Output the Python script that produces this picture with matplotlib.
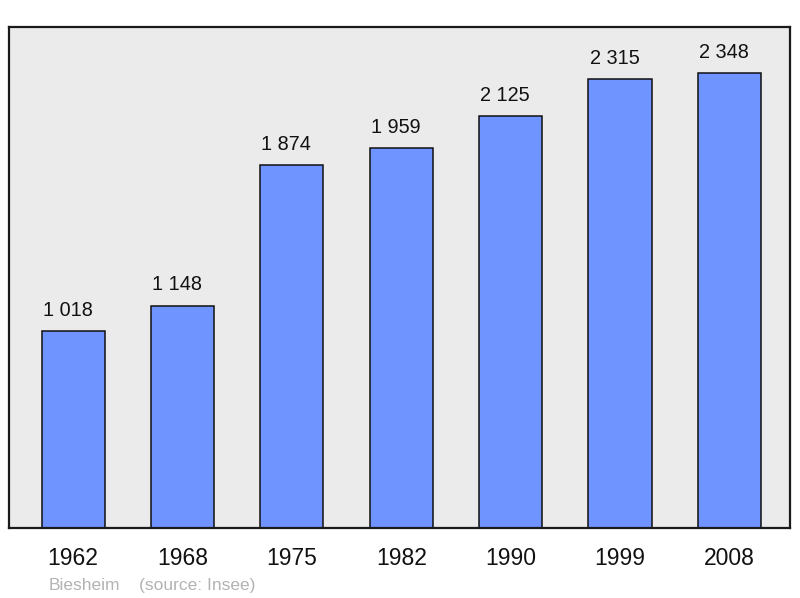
import matplotlib
matplotlib.use("Agg")
import matplotlib.pyplot as plt

years = ["1962", "1968", "1975", "1982", "1990", "1999", "2008"]
population = [1018, 1148, 1874, 1959, 2125, 2315, 2348]
value_labels = ["1 018", "1 148", "1 874", "1 959", "2 125", "2 315", "2 348"]

plt.rcParams['font.family'] = ['Liberation Sans', 'DejaVu Sans']

fig = plt.figure(figsize=(8, 5.98), dpi=100)
ax = fig.add_axes([0.0115, 0.1171, 0.976, 0.8378])
ax.set_facecolor('#ebebeb')

x = list(range(len(years)))
ax.bar(x, population, width=0.578, color='#7094ff', edgecolor='#111111', linewidth=1.1, zorder=2)
for xi, v, lab in zip(x, population, value_labels):
    ax.annotate(lab, (xi, v), xytext=(-4, 8), textcoords='offset points',
                ha='center', va='bottom', fontsize=14.3, color='#111111')

ax.set_xlim(-0.585, 6.555)
ax.set_ylim(0, 2586)
ax.set_yticks([])
ax.set_xticks(x)
ax.set_xticklabels(years, fontsize=16.5, color='#111111')
ax.tick_params(axis='x', length=0, pad=14)
for s in ax.spines.values():
    s.set_linewidth(1.6)
    s.set_color('#1a1a1a')

fig.text(0.061, 0.0135, "Biesheim", fontsize=12.5, color='#b3b3b3', ha='left', va='baseline')
fig.text(0.174, 0.0135, "(source: Insee)", fontsize=12.5, color='#b3b3b3', ha='left', va='baseline')

fig.savefig("out.png", dpi=100)
